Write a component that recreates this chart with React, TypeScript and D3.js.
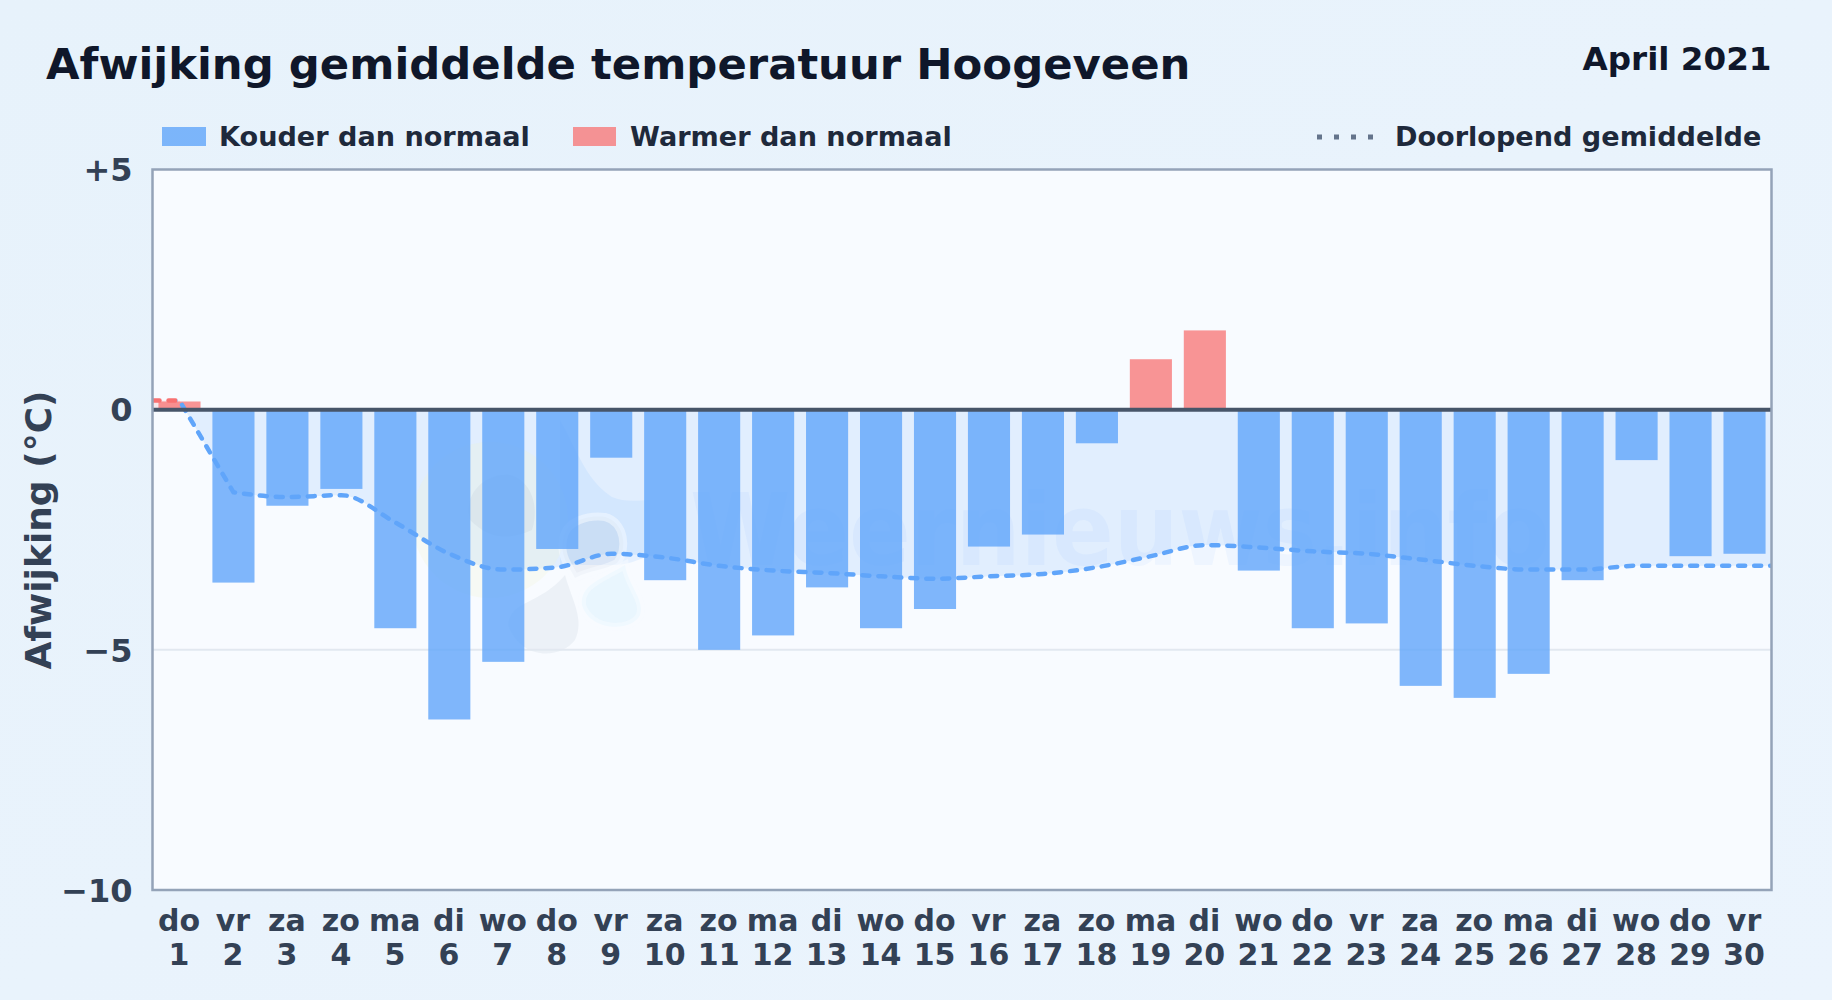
import React, { useEffect, useRef } from 'react';
import * as d3 from 'd3';

const weekdays = ['do', 'vr', 'za', 'zo', 'ma', 'di', 'wo', 'do', 'vr', 'za', 'zo', 'ma', 'di', 'wo', 'do', 'vr', 'za', 'zo', 'ma', 'di', 'wo', 'do', 'vr', 'za', 'zo', 'ma', 'di', 'wo', 'do', 'vr'];
const days = d3.range(1, 31);
const deviation = [0.17, -3.6, -2.0, -1.65, -4.55, -6.45, -5.25, -2.9, -1.0, -3.55, -5.0, -4.7, -3.7, -4.55, -4.15, -2.85, -2.6, -0.7, 1.05, 1.65, -3.35, -4.55, -4.45, -5.75, -6.0, -5.5, -3.55, -1.05, -3.05, -3.0];
const runningMean = [0.19, -1.72, -1.82, -1.78, -2.35, -3.0, -3.33, -3.28, -3.0, -3.08, -3.25, -3.35, -3.4, -3.47, -3.52, -3.47, -3.42, -3.28, -3.05, -2.82, -2.87, -2.95, -3.0, -3.12, -3.25, -3.33, -3.33, -3.25, -3.25, -3.25];
const yTicks = [5, 0, -5, -10];

const FONT = '"DejaVu Sans", sans-serif';
const W = 1832;
const H = 1000;
const margin = { left: 152.5, right: 60.5, top: 169.5, bottom: 110 };

const App: React.FC = () => {
  const svgRef = useRef<SVGSVGElement>(null);

  useEffect(() => {
    if (!svgRef.current) return;
    const svg = d3.select(svgRef.current);
    svg.selectAll('*').remove();

    const left = margin.left;
    const right = W - margin.right;
    const top = margin.top;
    const bottom = H - margin.bottom;

    const x = d3.scaleBand<number>().domain(days).range([left, right]).paddingInner(0.22).paddingOuter(0.11);
    const y = d3.scaleLinear().domain([5, -10]).range([top, bottom]);
    const cx = (d: number) => (x(d) as number) + x.bandwidth() / 2;

    const defs = svg.append('defs');
    const bg = defs.append('linearGradient').attr('id', 'page-bg').attr('x1', 0).attr('y1', 0).attr('x2', 1).attr('y2', 1);
    bg.append('stop').attr('offset', '0%').attr('stop-color', '#e7f2fb');
    bg.append('stop').attr('offset', '100%').attr('stop-color', '#ebf4fd');

    const addClip = (id: string, x0: number, y0: number, w: number, h: number) =>
      defs.append('clipPath').attr('id', id).append('rect').attr('x', x0).attr('y', y0).attr('width', w).attr('height', h);
    addClip('plot-clip', left, top, right - left, bottom - top);
    addClip('below-zero', left, y(0), right - left, bottom - y(0));
    addClip('above-zero', left, top, right - left, y(0) - top);
    addClip('line-warm', left, top, cx(1) - left - 2, bottom - top);
    addClip('line-cold', cx(1) - 2, top, right - cx(1) + 2, bottom - top);

    svg.append('rect').attr('width', W).attr('height', H).attr('fill', 'url(#page-bg)');
    svg.append('rect').attr('x', left).attr('y', top).attr('width', right - left).attr('height', bottom - top).attr('fill', '#f8fbff');

    // running mean runs on to both plot edges; straight up to day 2, smooth after that
    const meanPts: [number, number][] = [
      [left, runningMean[0]],
      ...runningMean.map((v, i): [number, number] => [cx(days[i]), v]),
      [right, runningMean[runningMean.length - 1]],
    ];
    const straight = d3.line<[number, number]>().x(d => d[0]).y(d => y(d[1]));
    const smooth = d3.line<[number, number]>().x(d => d[0]).y(d => y(d[1])).curve(d3.curveMonotoneX);
    const lineD = (straight(meanPts.slice(0, 3)) as string) + (smooth(meanPts.slice(2)) as string).replace(/^M[^C]*/, '');
    const areaD = `${lineD}L${right},${y(0)}L${left},${y(0)}Z`;

    svg.append('path').attr('d', areaD).attr('fill', '#60a5fa').attr('fill-opacity', 0.15).attr('clip-path', 'url(#below-zero)');
    svg.append('path').attr('d', areaD).attr('fill', '#f87171').attr('fill-opacity', 0.15).attr('clip-path', 'url(#above-zero)');

    // watermark
    const mark = svg.append('g').attr('clip-path', 'url(#plot-clip)');
    const blob = (d: string, fill: string, opacity: number) =>
      mark.append('path').attr('d', d).attr('fill', fill).attr('fill-opacity', opacity);
    mark.append('circle').attr('cx', 490).attr('cy', 520).attr('r', 78).attr('fill', '#eef7c8').attr('fill-opacity', 0.2);
    blob('M560 420 C575 445 585 480 612 497 C625 503 640 500 650 500 L650 555 C640 560 625 565 615 565 L560 565 Z', '#93c5fd', 0.18);
    blob('M470 520 C462 490 490 472 510 475 C530 480 540 505 532 530 C510 540 490 540 470 520 Z', '#94a3b8', 0.11);
    blob('M508 625 C510 600 540 605 565 575 C572 600 585 620 575 640 C560 660 520 660 508 625 Z', '#94a3b8', 0.11);
    blob('M563 540 C565 520 590 515 605 517 C625 522 628 550 617 563 C605 570 590 570 575 578 C568 565 560 555 563 540 Z', '#94a3b8', 0.13)
      .attr('stroke', '#f8fbff').attr('stroke-opacity', 0.5).attr('stroke-width', 8);
    blob('M582 605 C580 585 600 580 625 565 C628 585 645 600 640 615 C632 632 590 632 582 605 Z', '#bae6fd', 0.25)
      .attr('stroke', '#f8fbff').attr('stroke-opacity', 0.5).attr('stroke-width', 8);
    mark.append('text')
      .attr('x', 690).attr('y', 565)
      .attr('font-family', FONT).attr('font-weight', 700).attr('font-size', 100)
      .attr('textLength', 860).attr('lengthAdjust', 'spacingAndGlyphs')
      .attr('fill', '#3b82f6').attr('fill-opacity', 0.05)
      .text('Weernieuws.info');

    // gridline and bars
    svg.append('line').attr('x1', left).attr('x2', right).attr('y1', y(-5)).attr('y2', y(-5)).attr('stroke', '#e2e8f0').attr('stroke-width', 2);

    svg.append('g').selectAll('rect')
      .data(days)
      .join('rect')
      .attr('x', d => x(d) as number)
      .attr('width', x.bandwidth())
      .attr('y', (_, i) => Math.min(y(0), y(deviation[i])))
      .attr('height', (_, i) => Math.abs(y(deviation[i]) - y(0)))
      .attr('fill', (_, i) => (deviation[i] < 0 ? '#60a5fa' : '#f87171'))
      .attr('fill-opacity', (_, i) => (deviation[i] < 0 ? 0.8 : 0.75));

    const dashed = (color: string, clip: string) =>
      svg.append('path')
        .attr('d', lineD)
        .attr('fill', 'none')
        .attr('stroke', color)
        .attr('stroke-width', 4.5)
        .attr('stroke-linecap', 'round')
        .attr('stroke-dasharray', '7 9')
        .attr('clip-path', `url(#${clip})`);
    dashed('#f87171', 'line-warm');
    dashed('#60a5fa', 'line-cold');

    svg.append('line').attr('x1', left).attr('x2', right).attr('y1', y(0)).attr('y2', y(0)).attr('stroke', '#475569').attr('stroke-width', 4);
    svg.append('rect').attr('x', left).attr('y', top).attr('width', right - left).attr('height', bottom - top)
      .attr('fill', 'none').attr('stroke', '#94a3b8').attr('stroke-width', 2.5);

    // axes
    const yAxis = svg.append('g').attr('transform', `translate(${left},1)`)
      .call(d3.axisLeft(y).tickValues(yTicks).tickSize(0).tickPadding(20)
        .tickFormat(d => (+d > 0 ? `+${d}` : +d < 0 ? `\u2212${Math.abs(+d)}` : '0')));
    yAxis.select('.domain').remove();
    yAxis.selectAll('text').attr('font-family', FONT).attr('font-weight', 700).attr('font-size', 32).attr('fill', '#334155');

    const xAxis = svg.append('g').attr('transform', `translate(0,${bottom})`)
      .call(d3.axisBottom(x).tickSize(0).tickFormat(() => ''));
    xAxis.select('.domain').remove();
    xAxis.selectAll('text').remove();
    xAxis.selectAll('.tick').each(function (_, i) {
      const g = d3.select(this);
      const label = (text: string, yy: number) =>
        g.append('text').attr('x', -0.5).attr('y', yy).attr('text-anchor', 'middle')
          .attr('font-family', FONT).attr('font-weight', 700).attr('font-size', 30).attr('fill', '#334155').text(text);
      label(weekdays[i], 41);
      label(String(days[i]), 75);
    });

    svg.append('text')
      .attr('transform', 'translate(51,530) rotate(-90)')
      .attr('text-anchor', 'middle')
      .attr('font-family', FONT).attr('font-weight', 700).attr('font-size', 36).attr('fill', '#334155')
      .text('Afwijking (°C)');

    // header
    svg.append('text').attr('x', 46).attr('y', 79)
      .attr('font-family', FONT).attr('font-weight', 700).attr('font-size', 43.35).attr('fill', '#0f172a')
      .text('Afwijking gemiddelde temperatuur Hoogeveen');
    svg.append('text').attr('x', 1771.5).attr('y', 70).attr('text-anchor', 'end')
      .attr('font-family', FONT).attr('font-weight', 700).attr('font-size', 32.6).attr('fill', '#0f172a')
      .text('April 2021');

    // legend
    const legendText = (xx: number, text: string) =>
      svg.append('text').attr('x', xx).attr('y', 146)
        .attr('font-family', FONT).attr('font-weight', 700).attr('font-size', 27.1).attr('fill', '#1e293b').text(text);
    svg.append('rect').attr('x', 162).attr('y', 127).attr('width', 44).attr('height', 19).attr('fill', '#60a5fa').attr('fill-opacity', 0.8);
    legendText(219, 'Kouder dan normaal');
    svg.append('rect').attr('x', 573).attr('y', 127).attr('width', 43).attr('height', 19).attr('fill', '#f87171').attr('fill-opacity', 0.75);
    legendText(630, 'Warmer dan normaal');
    svg.append('line').attr('x1', 1317).attr('x2', 1374).attr('y1', 137).attr('y2', 137)
      .attr('stroke', '#64748b').attr('stroke-width', 5).attr('stroke-dasharray', '5 12');
    legendText(1395, 'Doorlopend gemiddelde');
  }, []);

  return <svg ref={svgRef} width={W} height={H} style={{ position: 'fixed', top: 0, left: 0 }} />;
};

export default App;
